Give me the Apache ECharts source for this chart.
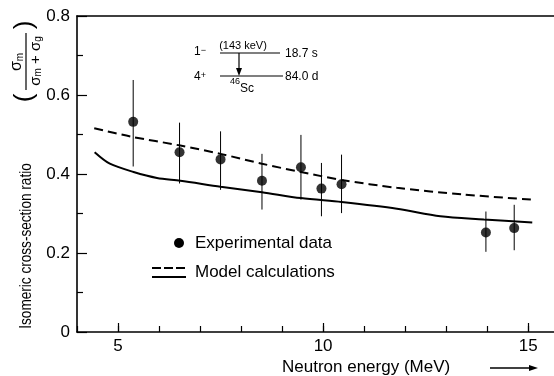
<!DOCTYPE html>
<html>
<head>
<meta charset="utf-8">
<script src="https://cdn.jsdelivr.net/npm/echarts@6/dist/echarts.min.js"></script>
<style>
html,body{margin:0;padding:0;background:#fff;}
#chart{width:554px;height:376px;}
</style>
</head>
<body>
<div id="chart"></div>
<script>
// ---- data ----
const expEnergy = [5.37, 6.50, 7.50, 8.51, 9.46, 9.96, 10.45, 13.97, 14.66];
const expRatio  = [0.532, 0.455, 0.437, 0.383, 0.417, 0.363, 0.374, 0.252, 0.263];
const expLow    = [0.419, 0.376, 0.360, 0.310, 0.335, 0.293, 0.301, 0.203, 0.207];
const expHigh   = [0.638, 0.530, 0.508, 0.451, 0.499, 0.428, 0.449, 0.305, 0.322];

const modelDashedE = [4.42, 5.3, 6.52, 7.5, 8.51, 9.46, 10.45, 11.8, 13.43, 15.1];
const modelDashedR = [0.516, 0.495, 0.472, 0.451, 0.426, 0.405, 0.385, 0.365, 0.348, 0.335];

const modelSolidE = [4.43, 4.8, 5.38, 5.95, 6.52, 7.5, 8.51, 9.46, 10.45, 11.8, 12.86, 13.92, 15.1];
const modelSolidR = [0.455, 0.426, 0.405, 0.390, 0.383, 0.368, 0.354, 0.339, 0.329, 0.312, 0.293, 0.285, 0.277];

const xMajorTicks = [5, 10, 15];
const yTickLabels = ['0', '0.2', '0.4', '0.6', '0.8'];

const FONT = 'Liberation Sans, Arial, sans-serif';

const chart = echarts.init(document.getElementById('chart'), null, {renderer: 'canvas'});

const zip = (a, b) => a.map((v, i) => [v, b[i]]);

const option = {
  backgroundColor: '#fff',
  animation: false,
  grid: {left: 77, top: 16, right: 0, bottom: 44, containLabel: false},
  xAxis: [
    {
      type: 'value', min: 4, max: 15.63, interval: 1,
      axisLine: {show: true, lineStyle: {color: '#000', width: 1.6}},
      axisTick: {show: true, inside: true, length: 6, lineStyle: {color: '#000', width: 1.2}},
      axisLabel: {
        color: '#000', fontSize: 17, fontFamily: FONT, margin: 6,
        showMaxLabel: false,
        formatter: v => (xMajorTicks.indexOf(v) >= 0 ? String(v) : '')
      },
      splitLine: {show: false}
    },
    {
      type: 'value', min: 4, max: 15.63, position: 'bottom',
      axisLine: {show: false},
      axisTick: {show: true, inside: true, length: 9, customValues: xMajorTicks, lineStyle: {color: '#000', width: 1.2}},
      axisLabel: {show: false},
      splitLine: {show: false}
    },
    {
      type: 'value', min: 4, max: 15.63, position: 'top',
      axisLine: {show: true, lineStyle: {color: '#000', width: 1.6}},
      axisTick: {show: false},
      axisLabel: {show: false},
      splitLine: {show: false}
    }
  ],
  yAxis: {
    type: 'value', min: 0, max: 0.8, interval: 0.2,
    axisLine: {show: true, lineStyle: {color: '#000', width: 1.6}},
    axisTick: {show: true, inside: true, length: 10, lineStyle: {color: '#000', width: 1.2}},
    minorTick: {show: true, splitNumber: 2, length: 6, lineStyle: {color: '#000', width: 1.2}},
    axisLabel: {
      color: '#000', fontSize: 17, fontFamily: FONT, margin: 7,
      formatter: (v) => yTickLabels[Math.round(v / 0.2)]
    },
    splitLine: {show: false}
  },
  series: [
    {
      name: 'Model (dashed)', type: 'line', xAxisIndex: 0,
      data: zip(modelDashedE, modelDashedR),
      smooth: 0.3, symbol: 'none',
      lineStyle: {color: '#000', width: 2, type: [9, 5]}
    },
    {
      name: 'Model (solid)', type: 'line', xAxisIndex: 0,
      data: zip(modelSolidE, modelSolidR),
      smooth: 0.3, symbol: 'none',
      lineStyle: {color: '#000', width: 2}
    },
    {
      name: 'Error bars', type: 'custom', xAxisIndex: 0,
      data: expEnergy.map((x, i) => [x, expLow[i], expHigh[i]]),
      encode: {x: 0, y: [1, 2]},
      renderItem: (params, api) => {
        const p1 = api.coord([api.value(0), api.value(1)]);
        const p2 = api.coord([api.value(0), api.value(2)]);
        return {
          type: 'line',
          shape: {x1: p1[0], y1: p1[1], x2: p2[0], y2: p2[1]},
          style: {stroke: '#000', lineWidth: 1}
        };
      }
    },
    {
      name: 'Experimental data', type: 'scatter', xAxisIndex: 0,
      data: zip(expEnergy, expRatio),
      symbol: 'circle', symbolSize: 10,
      itemStyle: {color: '#000'}
    }
  ],
  graphic: [
    // y-axis title (rotated, condensed)
    {type: 'text', x: 26, y: 246, rotation: Math.PI / 2, scaleX: 0.8,
     style: {text: 'Isomeric cross-section ratio', font: '17px ' + FONT, fill: '#000', align: 'center', verticalAlign: 'middle'}},
    {type: 'text', x: 25, y: 98, rotation: Math.PI / 2,
     style: {text: '(', font: '26px ' + FONT, fill: '#000', align: 'center', verticalAlign: 'middle'}},
    {type: 'text', x: 25, y: 25, rotation: Math.PI / 2,
     style: {text: ')', font: '26px ' + FONT, fill: '#000', align: 'center', verticalAlign: 'middle'}},
    {type: 'text', x: 17, y: 62, rotation: Math.PI / 2,
     style: {text: '{s|σ}{sub|m}', align: 'center', verticalAlign: 'middle', fill: '#000',
             rich: {s: {font: '16px ' + FONT, fill: '#000'}, sub: {font: '10px ' + FONT, fill: '#000', verticalAlign: 'bottom'}}}},
    {type: 'line', shape: {x1: 26, y1: 33, x2: 26, y2: 90}, style: {stroke: '#000', lineWidth: 1.2}},
    {type: 'text', x: 36, y: 61, rotation: Math.PI / 2,
     style: {text: '{s|σ}{sub|m}{s| + σ}{sub|g}', align: 'center', verticalAlign: 'middle', fill: '#000',
             rich: {s: {font: '15px ' + FONT, fill: '#000'}, sub: {font: '10px ' + FONT, fill: '#000', verticalAlign: 'bottom'}}}},

    // x-axis title with arrow
    {type: 'text', x: 282, y: 367,
     style: {text: 'Neutron energy (MeV)', font: '17px ' + FONT, fill: '#000', align: 'left', verticalAlign: 'middle'}},
    {type: 'line', shape: {x1: 490, y1: 368, x2: 531, y2: 368}, style: {stroke: '#000', lineWidth: 1.3}},
    {type: 'polygon', shape: {points: [[538, 368], [529, 365], [529, 371]]}, style: {fill: '#000'}},

    // legend
    {type: 'circle', shape: {cx: 179, cy: 243, r: 5}, style: {fill: '#000'}},
    {type: 'text', x: 195, y: 243,
     style: {text: 'Experimental data', font: '17px ' + FONT, fill: '#000', align: 'left', verticalAlign: 'middle'}},
    {type: 'line', shape: {x1: 152, y1: 268, x2: 186, y2: 268}, style: {stroke: '#000', lineWidth: 2, lineDash: [9, 3]}},
    {type: 'line', shape: {x1: 152, y1: 277, x2: 186, y2: 277}, style: {stroke: '#000', lineWidth: 2}},
    {type: 'text', x: 195, y: 272,
     style: {text: 'Model calculations', font: '17px ' + FONT, fill: '#000', align: 'left', verticalAlign: 'middle'}},

    // level-scheme inset
    {type: 'line', shape: {x1: 220, y1: 53, x2: 280, y2: 53}, style: {stroke: '#000', lineWidth: 1.2}},
    {type: 'line', shape: {x1: 220, y1: 76, x2: 283, y2: 76}, style: {stroke: '#000', lineWidth: 1.2}},
    {type: 'line', shape: {x1: 239, y1: 53, x2: 239, y2: 70}, style: {stroke: '#000', lineWidth: 1.2}},
    {type: 'polygon', shape: {points: [[239, 76], [236, 68], [242, 68]]}, style: {fill: '#000'}},
    {type: 'text', x: 194, y: 52,
     style: {text: '{n|1}{sup|−}', align: 'left', verticalAlign: 'middle',
             rich: {n: {font: '12px ' + FONT, fill: '#000'}, sup: {font: '9px ' + FONT, fill: '#000', verticalAlign: 'top'}}}},
    {type: 'text', x: 243, y: 46,
     style: {text: '(143 keV)', font: '11px ' + FONT, fill: '#000', align: 'center', verticalAlign: 'middle'}},
    {type: 'text', x: 285, y: 54,
     style: {text: '18.7 s', font: '12px ' + FONT, fill: '#000', align: 'left', verticalAlign: 'middle'}},
    {type: 'text', x: 194, y: 77,
     style: {text: '{n|4}{sup|+}', align: 'left', verticalAlign: 'middle',
             rich: {n: {font: '12px ' + FONT, fill: '#000'}, sup: {font: '9px ' + FONT, fill: '#000', verticalAlign: 'top'}}}},
    {type: 'text', x: 285, y: 77,
     style: {text: '84.0 d', font: '12px ' + FONT, fill: '#000', align: 'left', verticalAlign: 'middle'}},
    {type: 'text', x: 230, y: 86,
     style: {text: '{sup|46}{n|Sc}', align: 'left', verticalAlign: 'middle',
             rich: {n: {font: '12px ' + FONT, fill: '#000', padding: [6, 0, 0, 0]}, sup: {font: '9px ' + FONT, fill: '#000', verticalAlign: 'top'}}}}
  ]
};

chart.setOption(option);
</script>
</body>
</html>
